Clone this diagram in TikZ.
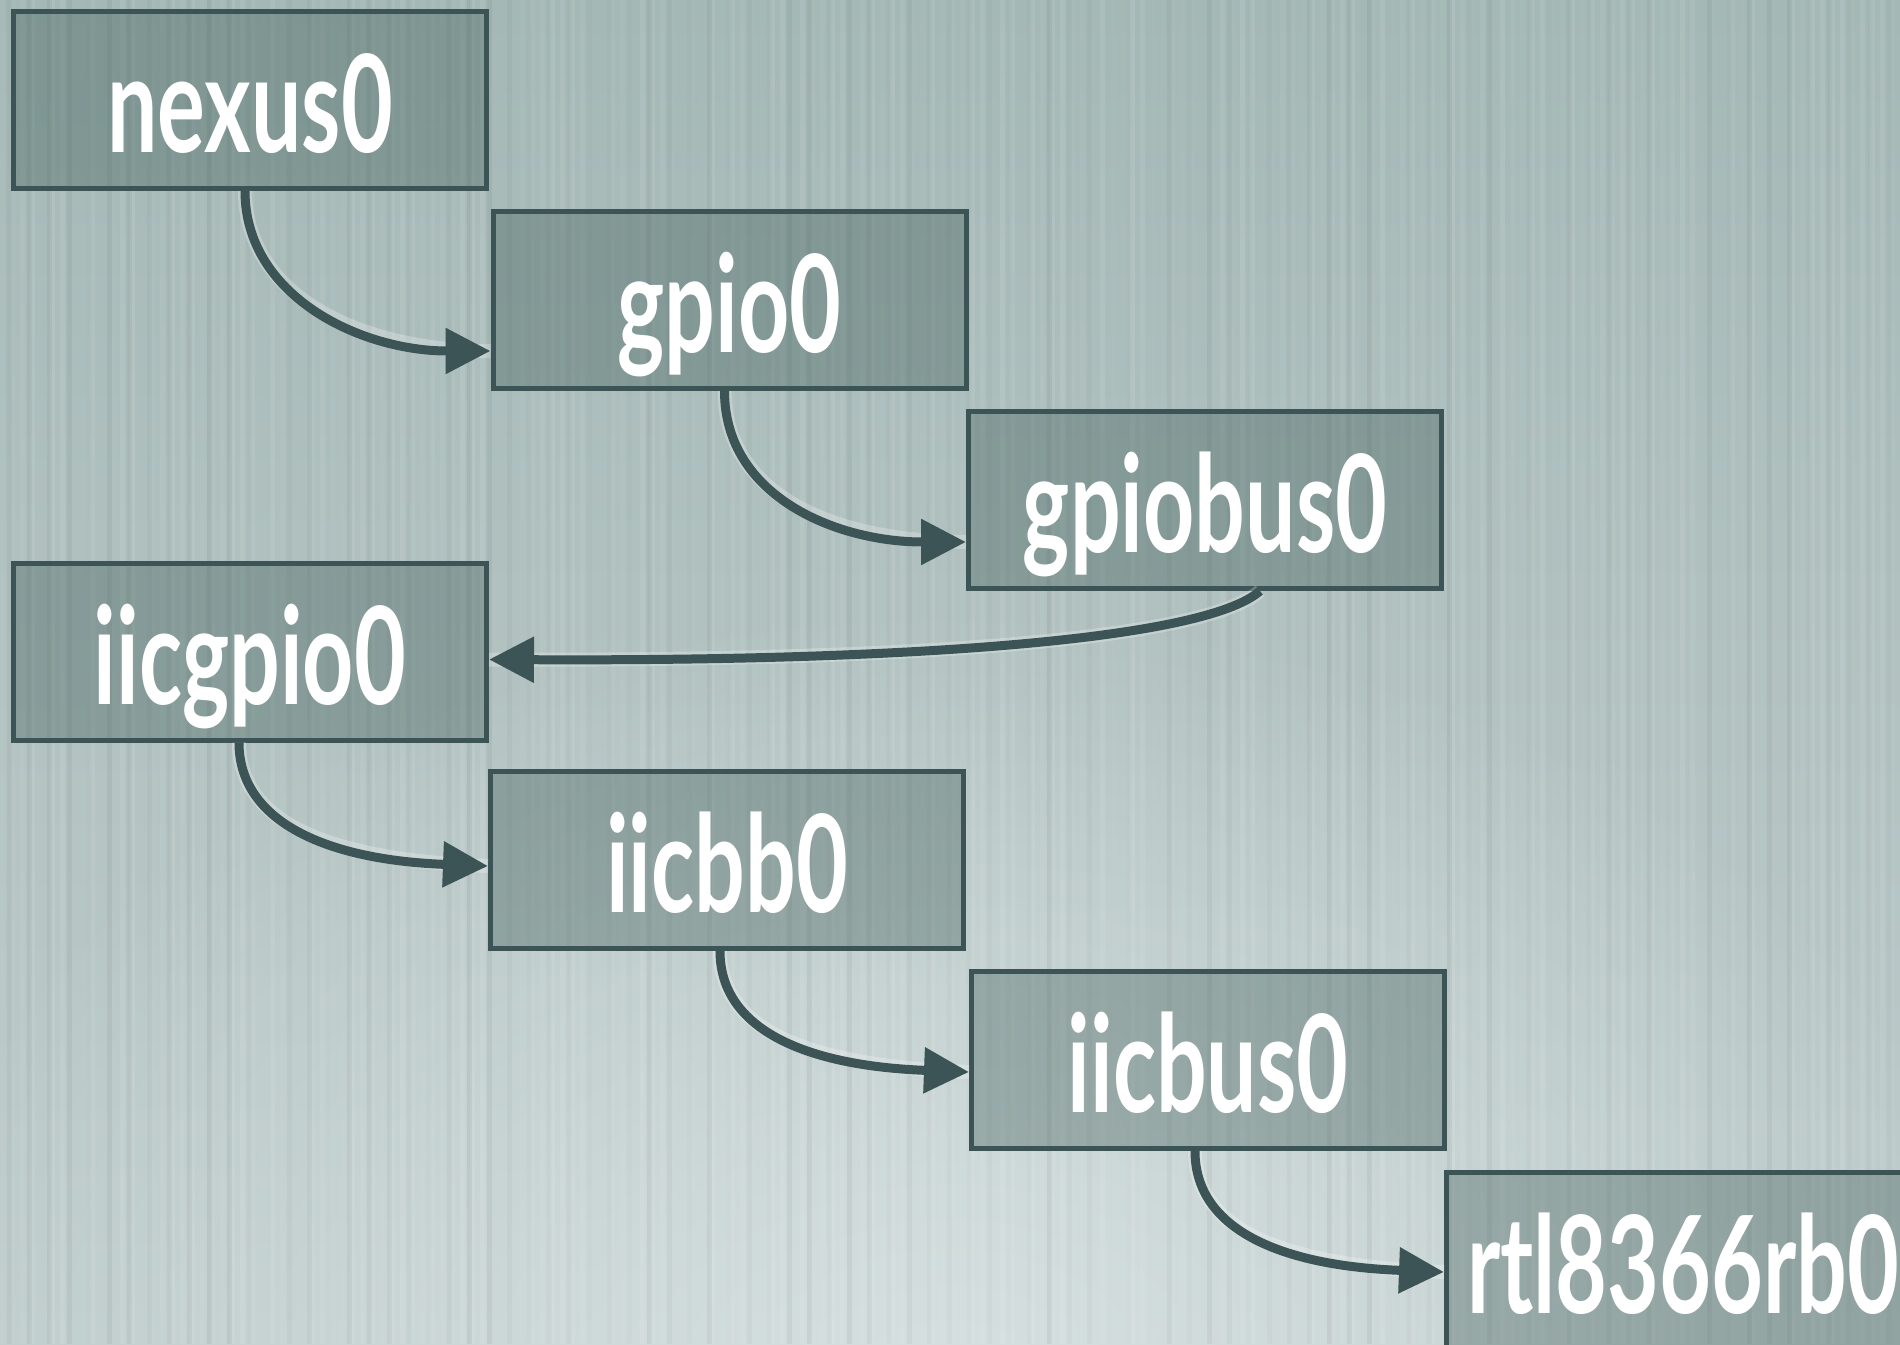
\documentclass[tikz,border=0pt]{standalone}
\usepackage{fontspec}
\newfontfamily\labelfont{Lato}[FakeStretch=0.66]
\usetikzlibrary{arrows.meta,calc,fadings}
\definecolor{bgtop}{HTML}{A4B8B6}
\definecolor{bgbottom}{HTML}{BFCCCC}
\definecolor{bgglow}{HTML}{D6E0E0}
\definecolor{edge}{HTML}{3C5455}
\definecolor{boxfill}{RGB}{60,90,85}
\tikzfading[name=softglow, inner color=transparent!0, outer color=transparent!100]
\tikzset{
  devbox/.style={draw=edge, line width=2.5pt, fill=boxfill, fill opacity=0.36,
    text opacity=1, minimum width=236.5pt, minimum height=88.5pt, inner sep=0pt,
    text=white, font=\labelfont\bfseries\fontsize{67.7pt}{70pt}\selectfont,
    text height=52.5pt, text depth=0pt},
  link/.style={draw=edge, line width=4.5pt, -{Triangle[length=22.5pt,width=22pt]},
    preaction={draw=white, draw opacity=0.25, line width=7pt, -}},
}
\begin{document}
\begin{tikzpicture}[x=0.5pt,y=-0.5pt]
\useasboundingbox (0,0) rectangle (1900,1344);
\clip (0,0) rectangle (1900,1344);
% backdrop: soft gradient with a light glow near the bottom
\shade[top color=bgtop, bottom color=bgbottom] (0,0) rectangle (1900,1344);
\fill[bgglow, path fading=softglow] (950,1400) ellipse (1100 and 800);
% soft vertical pinstripes
\pgfmathsetseed{12}
\foreach \i in {0,...,190}{
  \pgfmathsetmacro\op{0.10*rnd}
  \fill[white, opacity=\op] (\i*10,0) rectangle (\i*10+5,1344);
}
\foreach \i in {0,...,95}{
  \pgfmathsetmacro\op{0.05*rnd}
  \fill[black, opacity=\op] (\i*20+7,0) rectangle (\i*20+12,1344);
}

% device tree nodes
\node[devbox] (nexus)   at (250,100)    {nexus0};
\node[devbox] (gpio)    at (729.5,300)  {gpio0};
\node[devbox] (gpiobus) at (1205,500)   {gpiobus0};
\node[devbox] (iicgpio) at (250,651.5)  {iicgpio0};
\node[devbox] (iicbb)   at (727,860)    {iicbb0};
\node[devbox] (iicbus)  at (1208,1060)  {iicbus0};
\node[devbox] (rtl)     at (1683,1261)  {rtl8366rb0};

% parent -> child links
\draw[link] ($(nexus.south)+(-5,0)$) .. controls +(0,105) and +(-130,0) .. ($(gpio.west)+(0,51)$);
\draw[link] ($(gpio.south)+(-5,0)$) .. controls +(0,105) and +(-130,0) .. ($(gpiobus.west)+(0,42)$);
\draw[link] ($(gpiobus.south)+(55,0)$) .. controls +(-57,50) and +(409,2) .. ($(iicgpio.east)+(0,8)$);
\draw[link] ($(iicgpio.south)+(-11,0)$) .. controls +(0,80) and +(-160,-6) .. ($(iicbb.west)+(0,6)$);
\draw[link] ($(iicbb.south)+(-7,0)$) .. controls +(0,80) and +(-160,-6) .. ($(iicbus.west)+(0,12)$);
\draw[link] ($(iicbus.south)+(-13,0)$) .. controls +(0,80) and +(-160,-6) .. ($(rtl.west)+(0,11)$);
\end{tikzpicture}
\end{document}
